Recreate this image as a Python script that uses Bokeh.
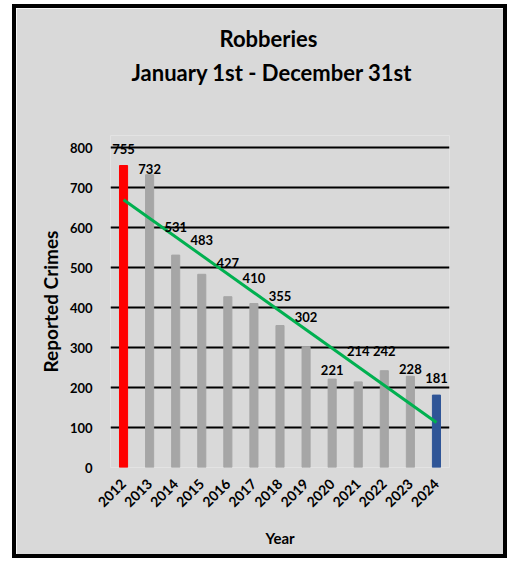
import numpy as np
from math import pi
from bokeh.plotting import figure
from bokeh.models import ColumnDataSource, LabelSet, FixedTicker, Title
from bokeh.core.properties import value
from bokeh.embed import file_html
from bokeh.resources import INLINE

years = ["2012", "2013", "2014", "2015", "2016", "2017", "2018",
         "2019", "2020", "2021", "2022", "2023", "2024"]
robberies = [755, 732, 531, 483, 427, 410, 355, 302, 221, 214, 242, 228, 181]
# vertical offset of each value label above its bar (data units)
label_offsets = [42, 15, 71, 87, 85, 65, 75, 75, 24, 78, 50, 19, 44]
y_ticks = [0, 100, 200, 300, 400, 500, 600, 700, 800]
title_lines = ["Robberies", "January 1st - December 31st"]

FONT = "Lato"
GRAY_BG = "#d9d9d9"

colors = ["#ff0000"] + ["#a6a6a6"] * (len(years) - 2) + ["#2f5597"]

src = ColumnDataSource(dict(
    x=years,
    top=robberies,
    color=colors,
    ly=[v + o for v, o in zip(robberies, label_offsets)],
    txt=[str(v) for v in robberies],
))

p = figure(x_range=years, y_range=(0, 830), width=495, height=554,
           output_backend="svg", toolbar_location=None,
           min_border_left=94, min_border_right=62,
           min_border_top=127, min_border_bottom=95)
p.styles = {"border": "4px solid black", "margin-left": "12px",
            "margin-top": "4px"}
p.background_fill_color = GRAY_BG
p.border_fill_color = GRAY_BG
p.outline_line_color = None

p.vbar(x="x", top="top", width=0.31, color="color", source=src)

# linear trend line
idx = np.arange(len(robberies))
slope, intercept = np.polyfit(idx, robberies, 1)
p.line(x=[years[0], years[-1]],
       y=[intercept, intercept + slope * idx[-1]],
       line_color="#00b050", line_width=3)

labels = LabelSet(x="x", y="ly", text="txt", source=src,
                  text_align="center", text_baseline="middle",
                  text_font=value(FONT), text_font_style="bold",
                  text_font_size="13px", text_color="black")
p.add_layout(labels)

# grid
p.xgrid.grid_line_color = None
p.ygrid.ticker = FixedTicker(ticks=y_ticks[1:])
p.ygrid.grid_line_color = "black"
p.ygrid.grid_line_width = 2

# y axis
p.yaxis.ticker = FixedTicker(ticks=y_ticks)
p.yaxis.axis_line_color = None
p.yaxis.major_tick_line_color = None
p.yaxis.minor_tick_line_color = None
p.yaxis.major_label_standoff = 12
p.yaxis.major_label_text_font = FONT
p.yaxis.major_label_text_font_style = "bold"
p.yaxis.major_label_text_font_size = "13px"
p.yaxis.major_label_text_color = "black"
p.yaxis.axis_label = "Reported Crimes"
p.yaxis.axis_label_text_font = FONT
p.yaxis.axis_label_text_font_style = "bold"
p.yaxis.axis_label_text_font_size = "19px"
p.yaxis.axis_label_text_color = "black"
p.yaxis.axis_label_standoff = 5

# x axis
p.xaxis.axis_line_color = None
p.xaxis.major_tick_line_color = None
p.xaxis.major_label_orientation = pi / 4
p.xaxis.major_label_standoff = 8
p.xaxis.major_label_text_font = FONT
p.xaxis.major_label_text_font_style = "bold"
p.xaxis.major_label_text_font_size = "14px"
p.xaxis.major_label_text_color = "black"
p.xaxis.axis_label = "Year"
p.xaxis.axis_label_text_font = FONT
p.xaxis.axis_label_text_font_style = "bold"
p.xaxis.axis_label_text_font_size = "15px"
p.xaxis.axis_label_text_color = "black"
p.xaxis.axis_label_standoff = 14

# spacing panel between the frame and the two-line title
p.add_layout(Title(text=" ", standoff=47, text_font_size="1px",
                   text_color=GRAY_BG), "above")
# two-line title (stacked outward from the frame)
title_offsets = [109, 21]
title_standoffs = [10, 0]
for txt, off, so in reversed(list(zip(title_lines, title_offsets, title_standoffs))):
    p.add_layout(Title(text=txt, align="left", offset=off, standoff=so,
                       text_font=FONT, text_font_style="bold",
                       text_font_size="22px", text_color="black"), "above")

open("out.html", "w").write(file_html(p, INLINE))
